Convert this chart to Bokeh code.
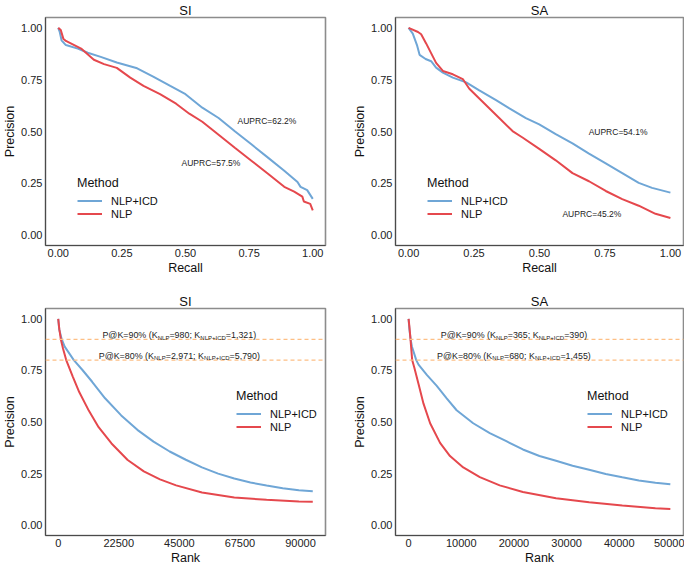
from bokeh.plotting import figure
from bokeh.models import Range1d, FixedTicker, PrintfTickFormatter, Legend, LegendItem, Label, Span
from bokeh.layouts import gridplot
from bokeh.embed import file_html
from bokeh.resources import INLINE

FONT = "Liberation Sans"
BLUE = "#6FA6D6"
RED = "#E5484D"
ORANGE = "#FDBF85"

# ---------------- data ----------------
titles = ["SI", "SA", "SI", "SA"]
method_labels = ["NLP+ICD", "NLP"]
prec_ticks = [0.0, 0.25, 0.5, 0.75, 1.0]
recall_ticks = [0.0, 0.25, 0.5, 0.75, 1.0]
rank_ticks_si = [0, 22500, 45000, 67500, 90000]
rank_ticks_sa = [0, 10000, 20000, 30000, 40000, 50000]

# SI precision-recall
si_pr_icd_r = [0.0, 0.006, 0.013, 0.03, 0.077, 0.116, 0.167, 0.23, 0.31, 0.373, 0.44, 0.50, 0.566, 0.63, 0.695, 0.76, 0.824, 0.888, 0.94, 0.952, 0.978, 1.0]
si_pr_icd_p = [1.0, 0.98, 0.94, 0.917, 0.90, 0.88, 0.86, 0.833, 0.805, 0.765, 0.72, 0.68, 0.615, 0.565, 0.50, 0.437, 0.374, 0.311, 0.256, 0.233, 0.217, 0.175]
si_pr_nlp_r = [0.0, 0.01, 0.02, 0.03, 0.09, 0.14, 0.18, 0.23, 0.283, 0.335, 0.40, 0.463, 0.515, 0.566, 0.63, 0.695, 0.76, 0.824, 0.888, 0.927, 0.959, 0.965, 0.99, 1.0]
si_pr_nlp_p = [1.0, 0.99, 0.948, 0.937, 0.90, 0.846, 0.825, 0.807, 0.76, 0.72, 0.68, 0.634, 0.586, 0.547, 0.484, 0.42, 0.358, 0.296, 0.233, 0.21, 0.186, 0.162, 0.151, 0.12]
si_auprc = ["AUPRC=62.2%", "AUPRC=57.5%"]
si_auprc_x = [0.82, 0.60]
si_auprc_y = [0.55, 0.35]

# SA precision-recall
sa_pr_icd_r = [0.0, 0.016, 0.032, 0.042, 0.065, 0.086, 0.105, 0.131, 0.169, 0.22, 0.27, 0.334, 0.385, 0.448, 0.499, 0.562, 0.626, 0.689, 0.753, 0.816, 0.879, 0.93, 1.0]
sa_pr_icd_p = [1.0, 0.972, 0.917, 0.87, 0.85, 0.839, 0.808, 0.784, 0.76, 0.737, 0.698, 0.651, 0.612, 0.565, 0.534, 0.487, 0.443, 0.393, 0.346, 0.299, 0.252, 0.228, 0.205]
sa_pr_nlp_r = [0.0, 0.036, 0.048, 0.067, 0.086, 0.105, 0.131, 0.169, 0.207, 0.232, 0.27, 0.308, 0.346, 0.397, 0.435, 0.499, 0.562, 0.626, 0.689, 0.753, 0.816, 0.879, 0.943, 1.0]
sa_pr_nlp_p = [1.0, 0.98, 0.969, 0.925, 0.878, 0.831, 0.792, 0.776, 0.753, 0.706, 0.659, 0.612, 0.565, 0.502, 0.471, 0.416, 0.361, 0.299, 0.26, 0.213, 0.174, 0.142, 0.103, 0.083]
sa_auprc = ["AUPRC=54.1%", "AUPRC=45.2%"]
sa_auprc_x = [0.80, 0.70]
sa_auprc_y = [0.50, 0.10]

# SI precision@rank
si_rk_icd_k = [0, 360, 1321, 2400, 5790, 9000, 12600, 17400, 23400, 29400, 35400, 41400, 47400, 53400, 59400, 65400, 71400, 77400, 83400, 89400, 94560]
si_rk_icd_p = [1.0, 0.95, 0.90, 0.865, 0.80, 0.752, 0.695, 0.615, 0.532, 0.462, 0.405, 0.357, 0.317, 0.28, 0.25, 0.226, 0.207, 0.192, 0.179, 0.169, 0.165]
si_rk_nlp_k = [0, 400, 980, 1800, 2971, 5400, 7800, 11400, 15000, 19800, 25800, 31800, 37800, 43800, 53400, 65400, 77400, 89400, 94560]
si_rk_nlp_p = [1.0, 0.95, 0.90, 0.855, 0.80, 0.72, 0.645, 0.554, 0.475, 0.396, 0.316, 0.261, 0.222, 0.193, 0.158, 0.134, 0.123, 0.115, 0.114]
si_pk_levels = [0.9, 0.8]
si_pk_pct = ["90%", "80%"]
si_k_nlp = [980, 2971]
si_k_icd = [1321, 5790]
si_pk_x = 45000
si_pk_y = [0.935, 0.835]

# SA precision@rank
sa_rk_icd_k = [0, 150, 390, 629, 1455, 1887, 3459, 5346, 7233, 9119, 12264, 15409, 18553, 21698, 24843, 27987, 31132, 34277, 37421, 40566, 43711, 46855, 49686]
sa_rk_icd_p = [1.0, 0.95, 0.90, 0.866, 0.80, 0.778, 0.728, 0.675, 0.615, 0.557, 0.494, 0.446, 0.407, 0.367, 0.335, 0.312, 0.288, 0.269, 0.248, 0.232, 0.217, 0.206, 0.198]
sa_rk_nlp_k = [0, 200, 365, 680, 1069, 1887, 2830, 4088, 5975, 7862, 10378, 13523, 17296, 21698, 27987, 34277, 40566, 46855, 49686]
sa_rk_nlp_p = [1.0, 0.95, 0.90, 0.80, 0.765, 0.684, 0.589, 0.494, 0.399, 0.335, 0.28, 0.233, 0.193, 0.161, 0.13, 0.111, 0.095, 0.082, 0.078]
sa_pk_levels = [0.9, 0.8]
sa_pk_pct = ["90%", "80%"]
sa_k_nlp = [365, 680]
sa_k_icd = [390, 1455]
sa_pk_x = 20000
sa_pk_y = [0.935, 0.835]

# ---------------- helpers ----------------
CHAR_W = {' ': 278, '%': 889, '(': 333, ')': 333, '+': 584, ',': 278, '.': 278, ';': 278,
          '=': 584, '@': 1015, 'C': 722, 'D': 722, 'I': 278, 'K': 667, 'L': 556, 'N': 722, 'P': 667}
MAIN_FS = 8.9
SUB_FS = 6.0


def text_w(s, fs):
    return sum(CHAR_W.get(c, 556) for c in s) * fs / 1000.0


def make_fig(w, h, bl, br, bt, bb, xr, yr, title, xlabel, xticks, xfmt):
    p = figure(width=w, height=h, x_range=Range1d(*xr), y_range=Range1d(*yr),
               output_backend="svg", toolbar_location=None, title=title,
               min_border_left=bl, min_border_right=br, min_border_top=bt, min_border_bottom=bb)
    p.title.align = "center"
    p.title.text_font = FONT
    p.title.text_font_size = "13px"
    p.title.text_font_style = "normal"
    p.title.text_color = "#111111"
    p.title.standoff = 0
    p.xaxis.ticker = FixedTicker(ticks=xticks)
    p.xaxis.formatter = PrintfTickFormatter(format=xfmt)
    p.yaxis.ticker = FixedTicker(ticks=prec_ticks)
    p.yaxis.formatter = PrintfTickFormatter(format="%.2f")
    p.xaxis.axis_label = xlabel
    p.yaxis.axis_label = "Precision"
    for ax in p.axis:
        ax.major_tick_line_color = None
        ax.minor_tick_line_color = None
        ax.major_tick_out = 0
        ax.major_tick_in = 0
        ax.minor_tick_out = 0
        ax.minor_tick_in = 0
        ax.axis_line_color = "#4a4a4a"
        ax.axis_line_width = 1
        ax.major_label_text_font = FONT
        ax.major_label_text_font_size = "11px"
        ax.major_label_text_color = "#222222"
        ax.axis_label_text_font = FONT
        ax.axis_label_text_font_size = "12.5px"
        ax.axis_label_text_font_style = "normal"
        ax.axis_label_text_color = "#111111"
        ax.major_label_standoff = 3
        ax.axis_label_standoff = 1
    p.grid.visible = False
    p.outline_line_color = "#8c8c8c"
    p.outline_line_width = 1.6
    p.outline_line_alpha = 1.0
    p.background_fill_color = "white"
    p.border_fill_color = "white"
    return p


def add_curves(p, xb, yb, xr_, yr_, loc):
    b = p.line(xb, yb, line_color=BLUE, line_width=2)
    r = p.line(xr_, yr_, line_color=RED, line_width=2)
    leg = Legend(items=[LegendItem(label=method_labels[0], renderers=[b]),
                        LegendItem(label=method_labels[1], renderers=[r])],
                 location=loc, title="Method")
    leg.padding = 0
    leg.margin = 0
    leg.spacing = 0
    leg.glyph_width = 25
    leg.glyph_height = 13
    leg.label_height = 13
    leg.label_standoff = 9
    leg.title_standoff = 4
    leg.background_fill_alpha = 0
    leg.border_line_alpha = 0
    leg.label_text_font = FONT
    leg.label_text_font_size = "11px"
    leg.label_text_color = "#111111"
    leg.title_text_font = FONT
    leg.title_text_font_size = "12.5px"
    leg.title_text_font_style = "normal"
    leg.title_text_color = "#111111"
    p.add_layout(leg)


def add_auprc(p, texts, xs, ys):
    for t, x, y in zip(texts, xs, ys):
        p.add_layout(Label(x=x, y=y, text=t, text_align="center", text_baseline="middle",
                           text_font=FONT, text_font_size="8.5px", text_color="#222222"))


def add_pk(p, levels, pcts, knlp, kicd, cx, ys):
    for lv in levels:
        p.add_layout(Span(location=lv, dimension="width", line_color=ORANGE,
                          line_dash="4 3", line_width=1.2))
    for pct, kn, ki, y in zip(pcts, knlp, kicd, ys):
        pieces = [("P@K=" + pct + " (K", False), ("NLP", True),
                  ("=" + format(kn, ",") + "; K", False), ("NLP+ICD", True),
                  ("=" + format(ki, ",") + ")", False)]
        total = sum(text_w(s, SUB_FS if sub else MAIN_FS) for s, sub in pieces)
        off = -total / 2.0
        for s, sub in pieces:
            fs = SUB_FS if sub else MAIN_FS
            p.add_layout(Label(x=cx, y=y, x_offset=off, y_offset=(-5.6 if sub else -3.2),
                               text=s, text_align="left", text_baseline="alphabetic",
                               text_font=FONT, text_font_size=f"{fs}px", text_color="#222222"))
            off += text_w(s, fs)


# ---------------- figures ----------------
LW, RW = 340, 344
TH, BH = 283, 284
YR = (-0.05, 1.05)

p1 = make_fig(LW, TH, 39, 15, 14, 38, (-0.05, 1.05), YR, titles[0], "Recall", recall_ticks, "%.2f")
add_curves(p1, si_pr_icd_r, si_pr_icd_p, si_pr_nlp_r, si_pr_nlp_p, (32, 25))
add_auprc(p1, si_auprc, si_auprc_x, si_auprc_y)

p2 = make_fig(RW, TH, 55, 1, 14, 38, (-0.05, 1.05), YR, titles[1], "Recall", recall_ticks, "%.2f")
add_curves(p2, sa_pr_icd_r, sa_pr_icd_p, sa_pr_nlp_r, sa_pr_nlp_p, (32, 25))
add_auprc(p2, sa_auprc, sa_auprc_x, sa_auprc_y)

p3 = make_fig(LW, BH, 39, 15, 25, 28, (-4728, 99288), YR, titles[2], "Rank", rank_ticks_si, "%d")
add_pk(p3, si_pk_levels, si_pk_pct, si_k_nlp, si_k_icd, si_pk_x, si_pk_y)
add_curves(p3, si_rk_icd_k, si_rk_icd_p, si_rk_nlp_k, si_rk_nlp_p, (191, 102))

p4 = make_fig(RW, BH, 55, 1, 25, 28, (-2485, 52185), YR, titles[3], "Rank", rank_ticks_sa, "%d")
add_pk(p4, sa_pk_levels, sa_pk_pct, sa_k_nlp, sa_k_icd, sa_pk_x, sa_pk_y)
add_curves(p4, sa_rk_icd_k, sa_rk_icd_p, sa_rk_nlp_k, sa_rk_nlp_p, (192, 102))

grid = gridplot([[p1, p2], [p3, p4]], toolbar_location=None)

open("out.html", "w").write(file_html(grid, INLINE))
